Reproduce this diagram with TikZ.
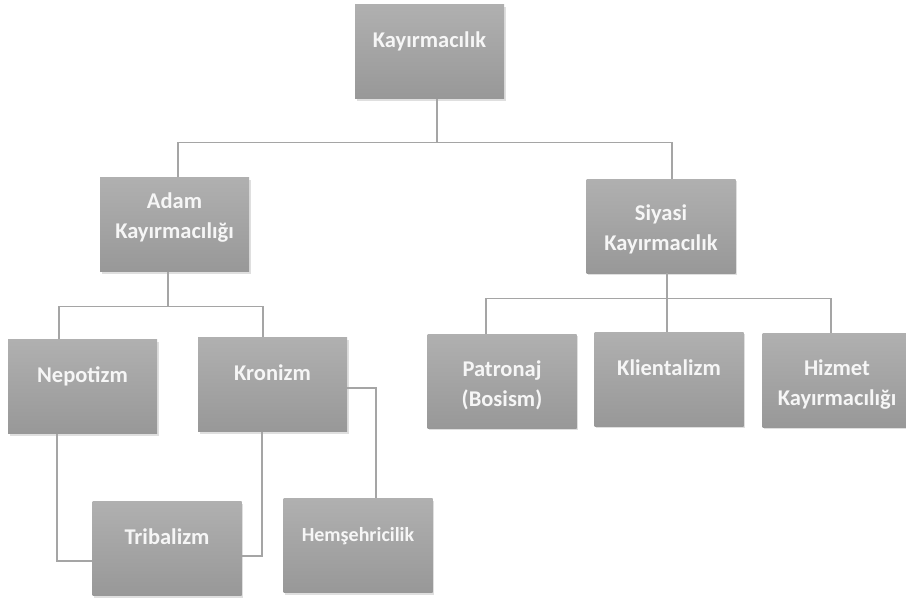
\documentclass[tikz,border=0pt]{standalone}
\usepackage{fontspec}
\setmainfont{Carlito}
\usetikzlibrary{shadows}
\definecolor{boxtop}{RGB}{176,176,176}
\definecolor{boxbot}{RGB}{152,152,152}
\definecolor{linegray}{RGB}{165,165,165}
\definecolor{boxtext}{RGB}{246,246,246}
\tikzset{
  box/.style={rectangle, minimum width=149pt, minimum height=94pt, inner sep=0pt,
    top color=boxtop, bottom color=boxbot, text=boxtext, align=center,
    font=\fontsize{22.5}{30}\selectfont\bfseries,
    drop shadow={shadow xshift=1.5pt, shadow yshift=-2pt, opacity=0.25}},
  one/.style={text height=15pt, text depth=23pt},
  high/.style={text height=46pt, text depth=18pt},
  low/.style={text height=52pt, text depth=2pt},
  link/.style={draw=linegray, line width=1.3pt}
}
\begin{document}
\begin{tikzpicture}[x=1pt,y=-1pt]
  \useasboundingbox (0,0) rectangle (906,598);
  \node[box,one] (kay) at (429.5,51.5) {Kayırmacılık};
  \node[box,high] (adam) at (174.5,224.5) {Adam\\Kayırmacılığı};
  \node[box,text height=50pt,text depth=2pt] (siyasi) at (661,226) {Siyasi\\Kayırmacılık};
  \node[box,one] (nepo) at (82.5,386.5) {Nepotizm};
  \node[box,one] (kron) at (272.5,384.5) {Kronizm};
  \node[box,one] (tribal) at (167,548.5) {Tribalizm};
  \node[box,one,font=\fontsize{20}{26}\selectfont\bfseries] (hems) at (358,545.5) {Hemşehricilik};
  \node[box,low] (patron) at (502,381) {Patronaj\\(Bosism)};
  \node[box,one] (klient) at (669,379) {Klientalizm};
  \node[box,low] (hizmet) at (837,380) {Hizmet\\Kayırmacılığı};
  % top level
  \draw[link] ([xshift=7.5pt]kay.south) -- ++(0,44) coordinate (j1);
  \draw[link] ([xshift=3.5pt]adam.north) |- (j1) -| ([xshift=11pt]siyasi.north);
  % adam kayirmaciligi
  \draw[link] ([xshift=-6.5pt]adam.south) -- ++(0,35) coordinate (j2);
  \draw[link] ([xshift=-23.5pt]nepo.north) |- (j2) -| ([xshift=-9.5pt]kron.north);
  \draw[link] ([yshift=-3.5pt]kron.east) -| ([xshift=18pt]hems.north);
  \draw[link] ([xshift=-10.5pt]kron.south) |- ([yshift=-7.5pt]tribal.east);
  \draw[link] ([xshift=-25.5pt]nepo.south) |- ([yshift=-12.5pt]tribal.west);
  % siyasi kayirmacilik
  \path ([xshift=6pt]siyasi.south) ++(0,25) coordinate (j3);
  \draw[link] ([xshift=6pt]siyasi.south) -- ([xshift=-2pt]klient.north);
  \draw[link] ([xshift=-16pt]patron.north) |- (j3) -| ([xshift=-6pt]hizmet.north);
\end{tikzpicture}
\end{document}
